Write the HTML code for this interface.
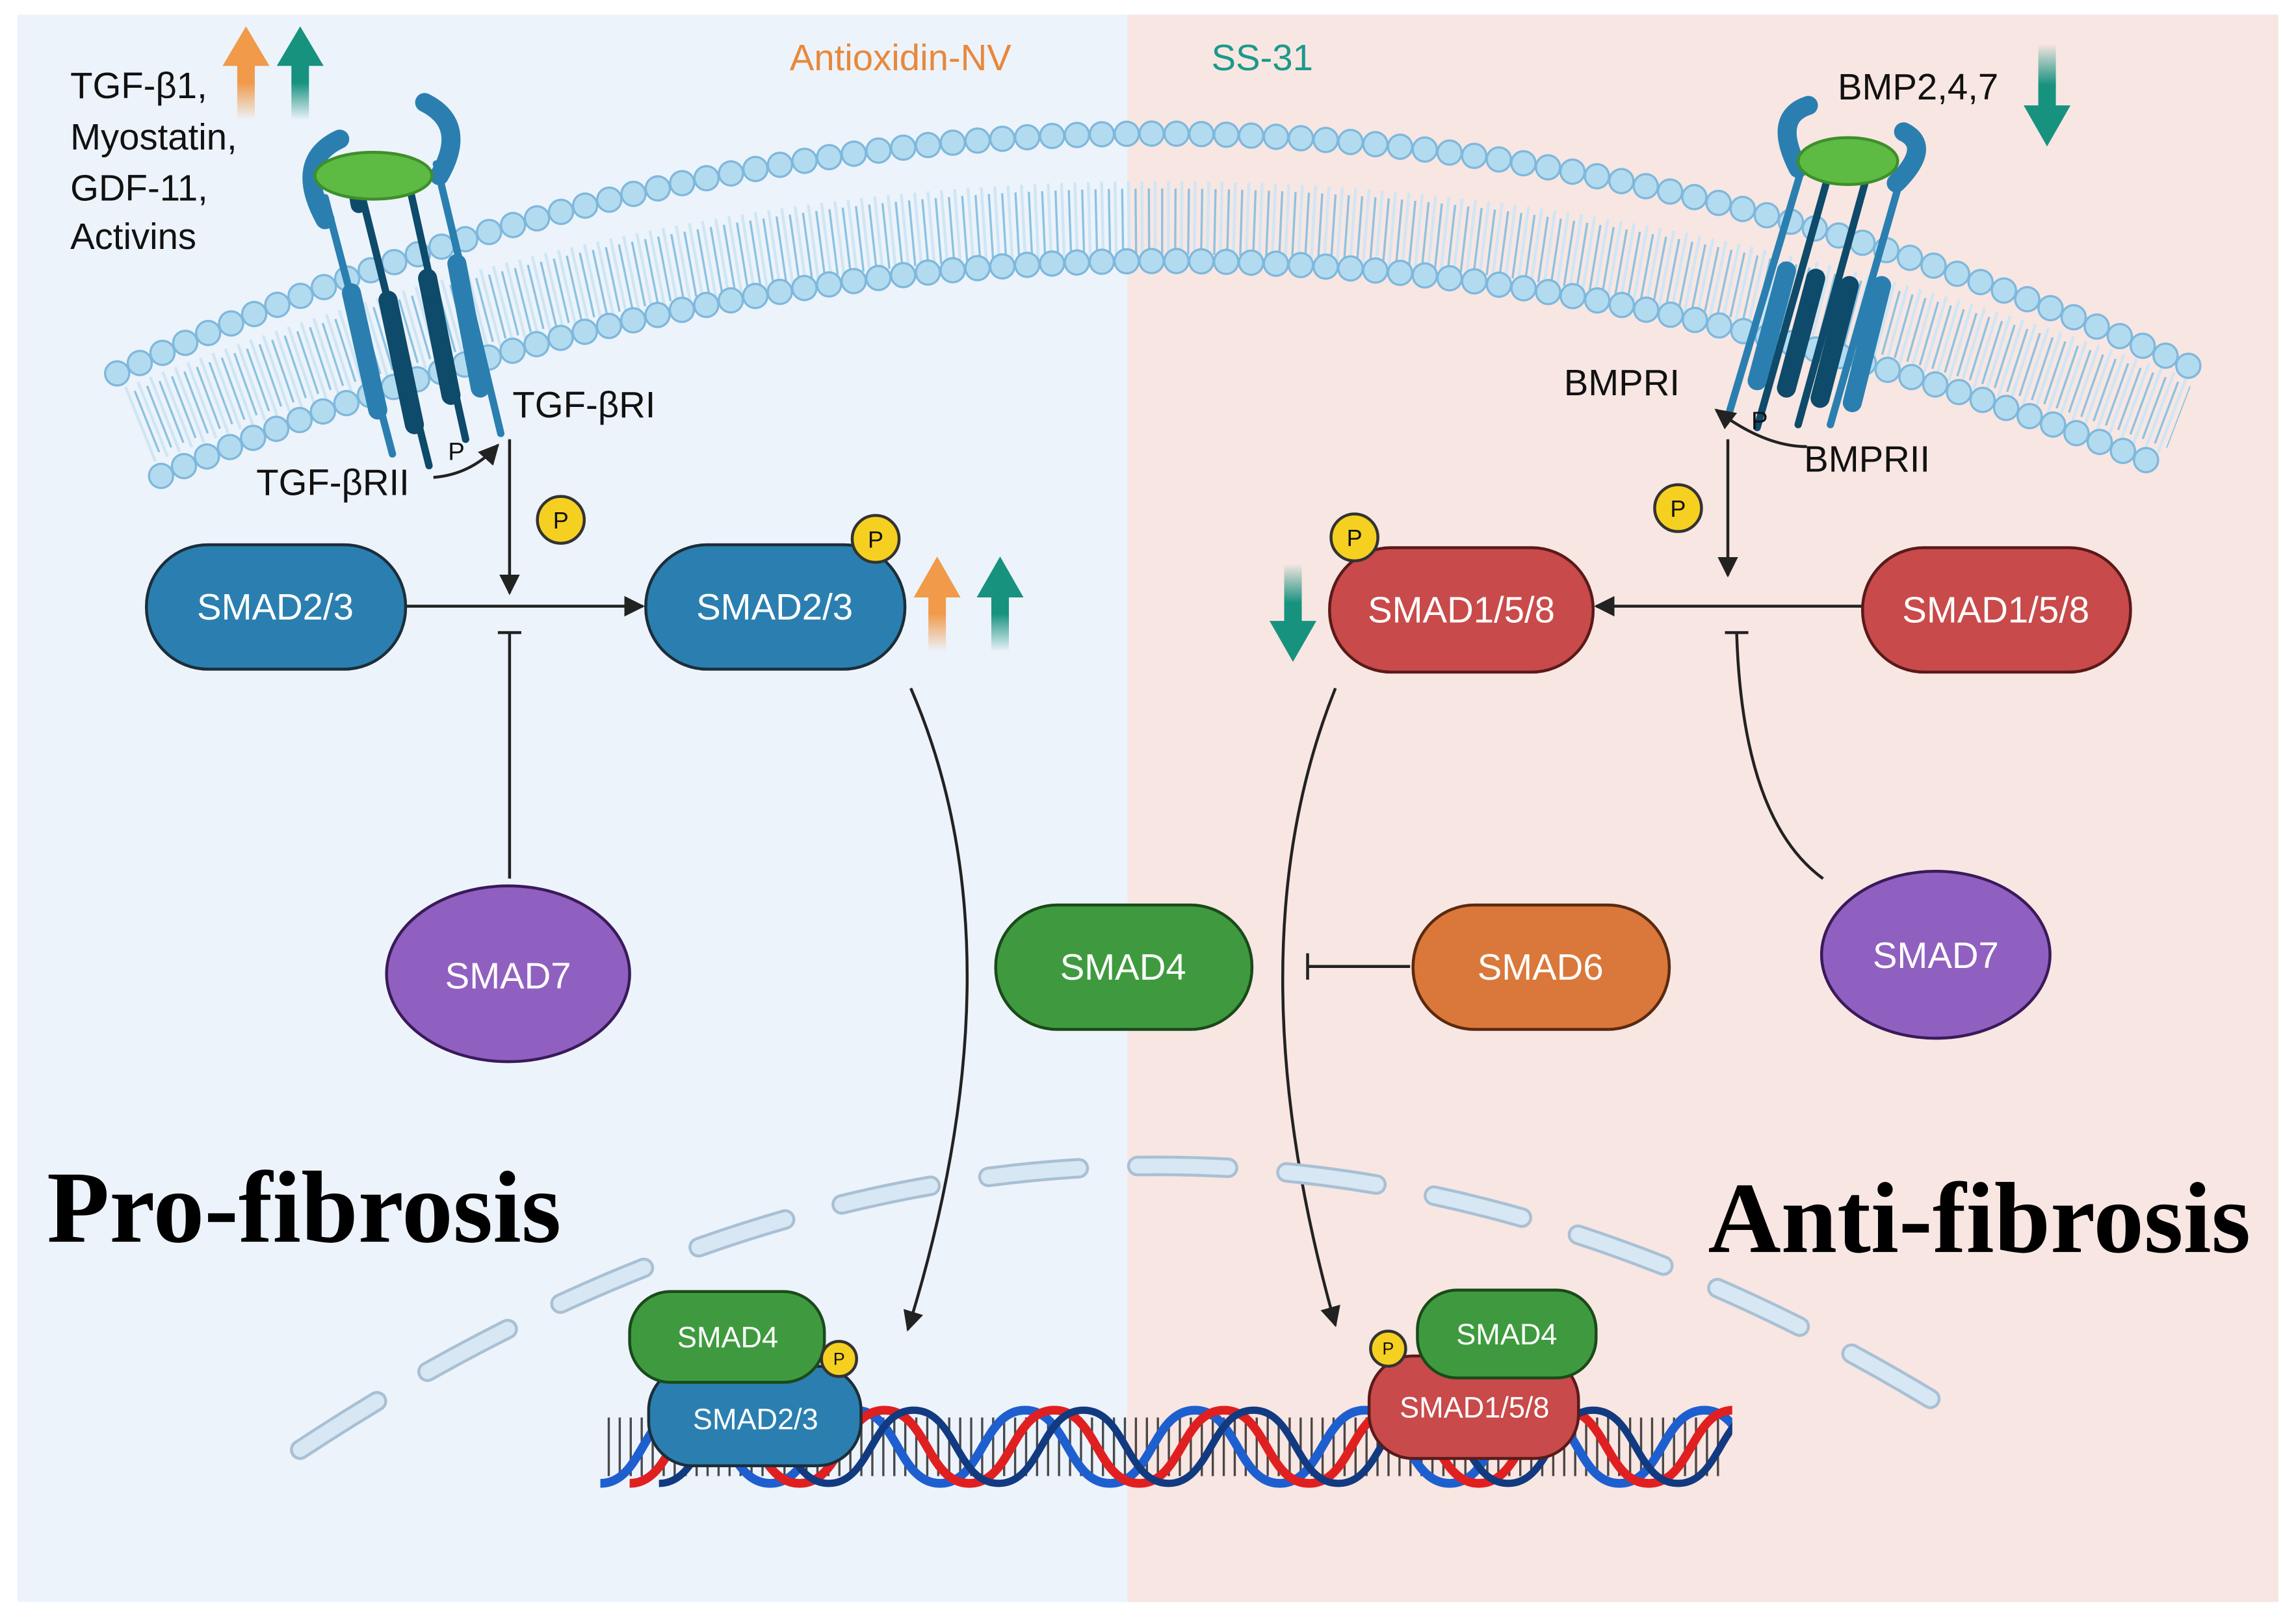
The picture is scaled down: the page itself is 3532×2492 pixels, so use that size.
<!DOCTYPE html>
<html><head><meta charset="utf-8"><style>html,body{margin:0;padding:0;background:#fff}svg{display:block}</style></head>
<body>
<svg width="3532" height="2492" viewBox="0 0 1568 1106.3" xmlns="http://www.w3.org/2000/svg" font-family="Liberation Sans, sans-serif">
<defs>
<marker id="ah" viewBox="0 0 10 10" refX="9" refY="5" markerWidth="7" markerHeight="7" orient="auto"><path d="M0,0 L10,5 L0,10 z" fill="#222"/></marker>
<linearGradient id="go" x1="0" y1="1" x2="0" y2="0"><stop offset="0" stop-color="#f09a4a" stop-opacity="0"/><stop offset=".4" stop-color="#f09a4a"/></linearGradient>
<linearGradient id="gt" x1="0" y1="1" x2="0" y2="0"><stop offset="0" stop-color="#17927f" stop-opacity="0"/><stop offset=".4" stop-color="#17927f"/></linearGradient>
<linearGradient id="gtd" x1="0" y1="0" x2="0" y2="1"><stop offset="0" stop-color="#17927f" stop-opacity="0"/><stop offset=".4" stop-color="#17927f"/></linearGradient>
<clipPath id="dc"><rect x="405" y="940" width="778" height="90"/></clipPath>
</defs>
<rect x="12" y="10" width="758" height="1084" fill="#edf3fb"/>
<rect x="770" y="10" width="786" height="1084" fill="#f8e6e2"/>

<!-- membrane -->
<path d="M95,290 Q780,15 1488,285" fill="none" stroke="#cfe6f4" stroke-width="55" stroke-dasharray="2 7"/>
<path d="M95,290 Q780,15 1488,285" fill="none" stroke="#8cc3e2" stroke-width="45" stroke-dasharray="1.5 7.5" stroke-dashoffset="4"/>
<path d="M80,255 Q780,-70 1495,250" fill="none" stroke="#7fb8dc" stroke-width="18" stroke-linecap="round" stroke-dasharray="0 17"/>
<path d="M80,255 Q780,-70 1495,250" fill="none" stroke="#b3dbf0" stroke-width="15" stroke-linecap="round" stroke-dasharray="0 17"/>
<path d="M110,325 Q780,34 1480,320" fill="none" stroke="#7fb8dc" stroke-width="18" stroke-linecap="round" stroke-dasharray="0 17"/>
<path d="M110,325 Q780,34 1480,320" fill="none" stroke="#b3dbf0" stroke-width="15" stroke-linecap="round" stroke-dasharray="0 17"/>

<!-- left receptor -->
<g stroke-linecap="round" fill="none">
<line x1="222" y1="135" x2="268" y2="310" stroke="#2a7fb0" stroke-width="5"/>
<line x1="245" y1="125" x2="293" y2="318" stroke="#0e4a6a" stroke-width="5"/>
<line x1="278" y1="120" x2="318" y2="300" stroke="#0e4a6a" stroke-width="5"/>
<line x1="298" y1="112" x2="342" y2="296" stroke="#2a7fb0" stroke-width="5"/>
<line x1="240" y1="200" x2="258" y2="280" stroke="#2a7fb0" stroke-width="13"/>
<line x1="265" y1="205" x2="283" y2="290" stroke="#0e4a6a" stroke-width="13"/>
<line x1="292" y1="190" x2="308" y2="270" stroke="#0e4a6a" stroke-width="13"/>
<line x1="312" y1="180" x2="328" y2="265" stroke="#2a7fb0" stroke-width="13"/>
<path d="M222,150 Q200,110 232,95" stroke="#2a7fb0" stroke-width="13"/>
<path d="M300,120 Q320,85 290,70" stroke="#2a7fb0" stroke-width="13"/>
<path d="M245,140 Q240,115 255,110" stroke="#0e4a6a" stroke-width="11"/>
</g>
<ellipse cx="255" cy="120" rx="40" ry="16" fill="#5dba43" stroke="#3d8f2a" stroke-width="2"/>
<!-- right receptor -->
<g stroke-linecap="round" fill="none">
<line x1="1232" y1="110" x2="1180" y2="285" stroke="#2a7fb0" stroke-width="5"/>
<line x1="1250" y1="115" x2="1200" y2="292" stroke="#0e4a6a" stroke-width="5"/>
<line x1="1275" y1="120" x2="1228" y2="290" stroke="#0e4a6a" stroke-width="5"/>
<line x1="1298" y1="122" x2="1250" y2="290" stroke="#2a7fb0" stroke-width="5"/>
<line x1="1220" y1="185" x2="1200" y2="260" stroke="#2a7fb0" stroke-width="13"/>
<line x1="1240" y1="190" x2="1220" y2="265" stroke="#0e4a6a" stroke-width="13"/>
<line x1="1263" y1="195" x2="1243" y2="272" stroke="#0e4a6a" stroke-width="13"/>
<line x1="1285" y1="195" x2="1265" y2="275" stroke="#2a7fb0" stroke-width="13"/>
<path d="M1228,115 Q1210,80 1235,72" stroke="#2a7fb0" stroke-width="13"/>
<path d="M1295,125 Q1320,100 1300,90" stroke="#2a7fb0" stroke-width="13"/>
</g>
<ellipse cx="1262" cy="110" rx="34" ry="16" fill="#5dba43" stroke="#3d8f2a" stroke-width="2"/>

<!-- top texts -->
<g font-size="25" fill="#111">
<text x="48" y="67">TGF-β1,</text><text x="48" y="102">Myostatin,</text><text x="48" y="137">GDF-11,</text><text x="48" y="170">Activins</text>
<text x="1255" y="68">BMP2,4,7</text>
<text x="350" y="285">TGF-βRI</text><text x="175" y="338">TGF-βRII</text>
<text x="1068" y="270">BMPRI</text><text x="1232" y="322">BMPRII</text>
<text x="306" y="314" font-size="17">P</text><text x="1196" y="293" font-size="17">P</text>
</g>
<text x="615" y="48" font-size="25" fill="#e8883a" text-anchor="middle">Antioxidin-NV</text>
<text x="862" y="48" font-size="25" fill="#1a9a8a" text-anchor="middle">SS-31</text>

<!-- up/down arrows -->
<path d="M162,82 V45 H152 L168,18 L184,45 H174 V82 Z" fill="url(#go)"/>
<path d="M199,82 V45 H189 L205,18 L221,45 H211 V82 Z" fill="url(#gt)"/>
<path d="M1392,30 V72 H1382 L1398,100 L1414,72 H1404 V30 Z" fill="url(#gtd)"/>
<path d="M634,445 V408 H624 L640,380 L656,408 H646 V445 Z" fill="url(#go)"/>
<path d="M677,445 V408 H667 L683,380 L699,408 H689 V445 Z" fill="url(#gt)"/>
<path d="M877,385 V424 H867 L883,452 L899,424 H889 V385 Z" fill="url(#gtd)"/>

<!-- connectors -->
<g stroke="#222" stroke-width="2" fill="none">
<path d="M296,326 Q322,324 340,304" marker-end="url(#ah)"/>
<path d="M1234,305 Q1205,305 1172,280" marker-end="url(#ah)"/>
<line x1="277" y1="414" x2="439" y2="414" marker-end="url(#ah)"/>
<line x1="348" y1="300" x2="348" y2="405" marker-end="url(#ah)"/>
<line x1="348" y1="600" x2="348" y2="432"/><line x1="340" y1="432" x2="356" y2="432"/>
<line x1="1272" y1="414" x2="1090" y2="414" marker-end="url(#ah)"/>
<line x1="1180" y1="300" x2="1180" y2="393" marker-end="url(#ah)"/>
<path d="M1245,600 Q1190,560 1186,432"/><line x1="1178" y1="432" x2="1194" y2="432"/>
<line x1="963" y1="660" x2="893" y2="660"/><line x1="893" y1="651" x2="893" y2="669"/>
<path d="M622,470 Q700,650 620,908" marker-end="url(#ah)"/>
<path d="M912,470 Q840,650 912,905" marker-end="url(#ah)"/>
</g>

<!-- nucleus -->
<path d="M205,990 Q780,610 1350,975" fill="none" stroke="#a8c0d4" stroke-width="14" stroke-linecap="round" stroke-dasharray="62 40"/>
<path d="M205,990 Q780,610 1350,975" fill="none" stroke="#d7e7f3" stroke-width="10" stroke-linecap="round" stroke-dasharray="62 40"/>

<!-- SMAD nodes -->
<g stroke="#1c2e3a" stroke-width="2">
<rect x="100" y="372" width="177" height="85" rx="42" fill="#2a7fb0"/>
<rect x="441" y="372" width="177" height="85" rx="42" fill="#2a7fb0"/>
<rect x="908" y="374" width="180" height="85" rx="42" fill="#c94a4a" stroke="#5a1a1a"/>
<rect x="1272" y="374" width="183" height="85" rx="42" fill="#c94a4a" stroke="#5a1a1a"/>
<rect x="680" y="618" width="175" height="85" rx="42" fill="#3f9a3f" stroke="#1a4a1a"/>
<rect x="965" y="618" width="175" height="85" rx="42" fill="#d9783a" stroke="#5a2a10"/>
<ellipse cx="347" cy="665" rx="83" ry="60" fill="#9060c0" stroke="#3a1a5a"/>
<ellipse cx="1322" cy="652" rx="78" ry="57" fill="#9060c0" stroke="#3a1a5a"/>
</g>
<g fill="#fff" font-size="25" text-anchor="middle">
<text x="188" y="423">SMAD2/3</text><text x="529" y="423">SMAD2/3</text>
<text x="998" y="425">SMAD1/5/8</text><text x="1363" y="425">SMAD1/5/8</text>
<text x="767" y="669">SMAD4</text><text x="1052" y="669">SMAD6</text>
<text x="347" y="675">SMAD7</text><text x="1322" y="661">SMAD7</text>
</g>
<g fill="#f5d020" stroke="#333" stroke-width="2">
<circle cx="383" cy="355" r="16"/><circle cx="598" cy="368" r="16"/><circle cx="1146" cy="347" r="16"/><circle cx="925" cy="367" r="16"/>
</g>
<g font-size="16" text-anchor="middle" fill="#111"><text x="383" y="361">P</text><text x="598" y="374">P</text><text x="1146" y="353">P</text><text x="925" y="373">P</text></g>

<!-- titles -->
<text x="32" y="848" font-family="Liberation Serif, serif" font-weight="bold" font-size="70" fill="#000">Pro-fibrosis</text>
<text x="1537" y="855" font-family="Liberation Serif, serif" font-weight="bold" font-size="69" fill="#000" text-anchor="end">Anti-fibrosis</text>

<!-- DNA -->
<g clip-path="url(#dc)">
<line x1="415" y1="988" x2="1175" y2="988" stroke="#111" stroke-width="40" stroke-dasharray="1.5 6" opacity=".75"/>
<path d="M410,1013 C439,1013 439,963 468,963 s29,50 58,50 s29,-50 58,-50 s29,50 58,50 s29,-50 58,-50 s29,50 58,50 s29,-50 58,-50 s29,50 58,50 s29,-50 58,-50 s29,50 58,50 s29,-50 58,-50 s29,50 58,50 s29,-50 58,-50 s29,50 58,50" fill="none" stroke="#1e5fd0" stroke-width="6"/>
<path d="M430,1013 C459,1013 459,963 488,963 s29,50 58,50 s29,-50 58,-50 s29,50 58,50 s29,-50 58,-50 s29,50 58,50 s29,-50 58,-50 s29,50 58,50 s29,-50 58,-50 s29,50 58,50 s29,-50 58,-50 s29,50 58,50 s29,-50 58,-50 s29,50 58,50" fill="none" stroke="#e02020" stroke-width="6"/>
<path d="M450,1013 C479,1013 479,963 508,963 s29,50 58,50 s29,-50 58,-50 s29,50 58,50 s29,-50 58,-50 s29,50 58,50 s29,-50 58,-50 s29,50 58,50 s29,-50 58,-50 s29,50 58,50 s29,-50 58,-50 s29,50 58,50 s29,-50 58,-50 s29,50 58,50" fill="none" stroke="#123a80" stroke-width="5"/>
</g>

<!-- nuclear complexes -->
<g stroke-width="2">
<rect x="443" y="933" width="145" height="68" rx="30" fill="#2a7fb0" stroke="#1c2e3a"/>
<rect x="430" y="882" width="133" height="62" rx="28" fill="#3f9a3f" stroke="#1a4a1a"/>
<circle cx="573" cy="928" r="12" fill="#f5d020" stroke="#333"/>
<rect x="935" y="926" width="143" height="70" rx="30" fill="#c94a4a" stroke="#5a1a1a"/>
<rect x="968" y="881" width="122" height="60" rx="27" fill="#3f9a3f" stroke="#1a4a1a"/>
<circle cx="948" cy="921" r="12" fill="#f5d020" stroke="#333"/>
</g>
<g fill="#fff" font-size="20" text-anchor="middle">
<text x="497" y="920">SMAD4</text><text x="516" y="976">SMAD2/3</text>
<text x="1029" y="918">SMAD4</text><text x="1007" y="968">SMAD1/5/8</text>
</g>
<g font-size="12" text-anchor="middle" fill="#111"><text x="573" y="932">P</text><text x="948" y="925">P</text></g>
</svg>
</body></html>
